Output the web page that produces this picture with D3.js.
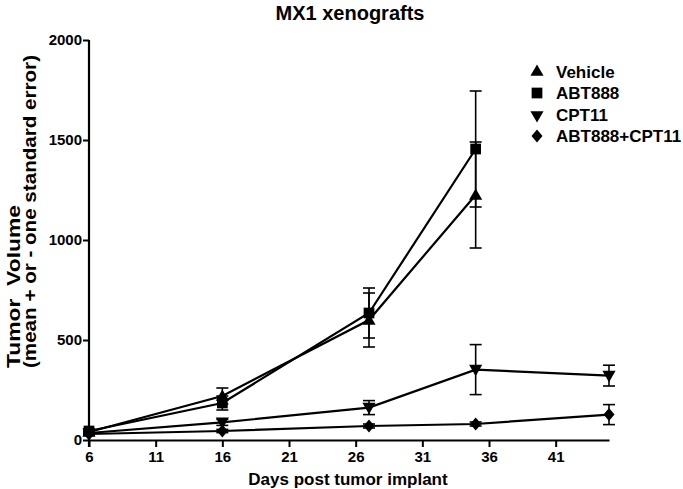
<!DOCTYPE html>
<html><head><meta charset="utf-8">
<script src="https://cdn.jsdelivr.net/npm/d3@7"></script>
<style>body{margin:0;background:#fff}svg{display:block}text{font-family:"Liberation Sans",Arial,sans-serif;font-weight:bold;fill:#000}</style>
</head><body>
<script>
const days = [6, 16, 27, 35, 45];
const seriesNames = ["Vehicle", "ABT888", "CPT11", "ABT888+CPT11"];
const vehicleMean = [40, 220, 600, 1225];
const vehicleErr  = [10, 40, 135, 265];
const abt888Mean  = [45, 185, 635, 1455];
const abt888Err   = [10, 35, 125, 290];
const cpt11Mean   = [35, 88, 162, 352, 322];
const cpt11Err    = [8, 15, 35, 125, 52];
const comboMean   = [30, 45, 70, 80, 127];
const comboErr    = [6, 8, 10, 10, 50];
const xTicks = [6, 11, 16, 21, 26, 31, 36, 41];
const yTicks = [0, 500, 1000, 1500, 2000];

const W = 683, H = 489;
const svg = d3.select("body").append("svg").attr("width", W).attr("height", H);
const x = d3.scaleLinear().domain([6, 45]).range([89, 609]);
const y = d3.scaleLinear().domain([0, 2000]).range([440, 40]);

// wider diamond like the reference
const wideDiamond = {draw(ctx, size) {
  const h = Math.sqrt(size) * 0.75, w = h * 0.85;
  ctx.moveTo(0, -h); ctx.lineTo(w, 0); ctx.lineTo(0, h); ctx.lineTo(-w, 0); ctx.closePath();
}};

const series = [
  {name: seriesNames[0], mean: vehicleMean, err: vehicleErr, sym: d3.symbolTriangle, size: 75, rot: 0},
  {name: seriesNames[1], mean: abt888Mean, err: abt888Err, sym: d3.symbolSquare, size: 115, rot: 0},
  {name: seriesNames[2], mean: cpt11Mean, err: cpt11Err, sym: d3.symbolTriangle, size: 75, rot: 180},
  {name: seriesNames[3], mean: comboMean, err: comboErr, sym: wideDiamond, size: 75, rot: 0}
];

// title
svg.append("text").attr("x", 350).attr("y", 20).attr("text-anchor", "middle")
  .style("font-size", "20px").text("MX1 xenografts");

// axes
const gx = svg.append("g").attr("transform", "translate(0,440)")
  .call(d3.axisBottom(x).tickValues(xTicks).tickFormat(d3.format("d")).tickSize(7).tickSizeOuter(0).tickPadding(4));
const gy = svg.append("g").attr("transform", "translate(89,0)")
  .call(d3.axisLeft(y).tickValues(yTicks).tickFormat(d3.format("d")).tickSize(6).tickSizeOuter(0).tickPadding(1));
[gx, gy].forEach(g => {
  g.select(".domain").attr("stroke", "#000").attr("stroke-width", 2.2);
  g.selectAll(".tick line").attr("stroke", "#000").attr("stroke-width", 2);
  g.selectAll(".tick text").style("font-size", "15px").style("font-family", "Liberation Sans, Arial, sans-serif").style("font-weight", "bold").attr("fill", "#000");
});
gy.select(".domain").attr("d", "M0,40V447");

svg.append("text").attr("x", 348).attr("y", 485).attr("text-anchor", "middle").style("font-size", "17px").text("Days post tumor implant");
const yt = svg.append("g").attr("transform", "translate(0,368) rotate(-90)");
yt.append("text").attr("x", 0).attr("y", 20).attr("text-anchor", "start").style("font-size", "19px")
  .attr("textLength", 163).attr("lengthAdjust", "spacingAndGlyphs").attr("xml:space", "preserve").text("Tumor  Volume");
yt.append("text").attr("x", 0).attr("y", 36).attr("text-anchor", "start").style("font-size", "18px")
  .attr("textLength", 313).attr("lengthAdjust", "spacingAndGlyphs").text("(mean + or - one standard error)");

const line = d3.line().x(d => x(d.day)).y(d => y(d.v));
series.forEach(s => {
  const pts = s.mean.map((v, i) => ({day: days[i], v, e: s.err[i]}));
  svg.append("path").datum(pts).attr("d", line).attr("fill", "none").attr("stroke", "#000").attr("stroke-width", 2.2);
  const eb = svg.append("g").attr("stroke", "#000").attr("stroke-width", 1.6);
  pts.forEach(p => {
    eb.append("line").attr("x1", x(p.day)).attr("x2", x(p.day)).attr("y1", y(p.v - p.e)).attr("y2", y(p.v + p.e));
    [p.v - p.e, p.v + p.e].forEach(vv => eb.append("line").attr("x1", x(p.day) - 6).attr("x2", x(p.day) + 6).attr("y1", y(vv)).attr("y2", y(vv)));
  });
  svg.append("g").selectAll("path").data(pts).join("path")
    .attr("d", d3.symbol(s.sym, s.size))
    .attr("transform", p => `translate(${x(p.day)},${y(p.v) + (s.sym === d3.symbolTriangle ? (s.rot ? -1 : 1) : 0)}) rotate(${s.rot})`)
    .attr("fill", "#000");
});

// legend
const ly = [72, 93, 115, 136];
series.forEach((s, i) => {
  svg.append("path").attr("d", d3.symbol(s.sym, s.size)).attr("transform", `translate(537,${ly[i]}) rotate(${s.rot})`).attr("fill", "#000");
  svg.append("text").attr("x", 556).attr("y", ly[i] + 6).style("font-size", "17px").text(s.name);
});
</script>
</body></html>
